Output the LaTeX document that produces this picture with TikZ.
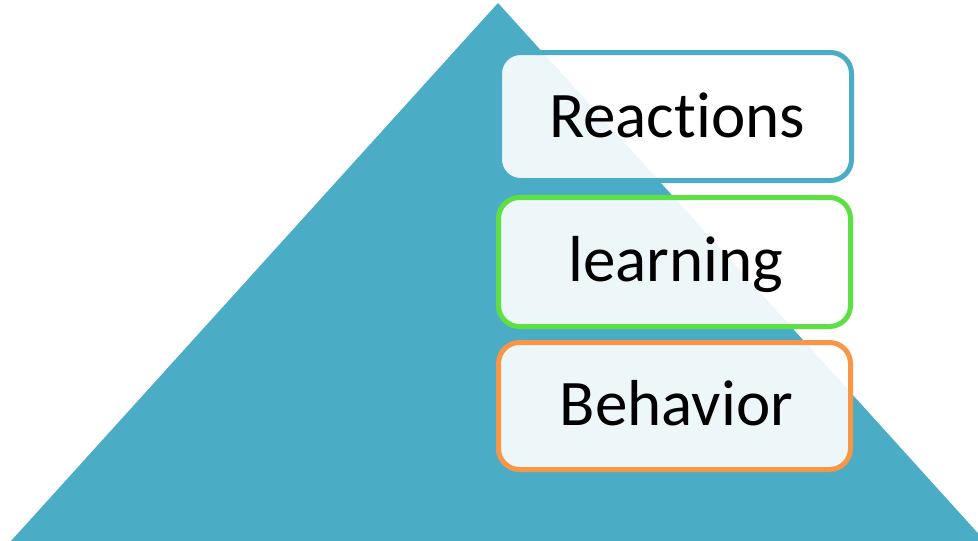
\documentclass[tikz,border=0pt]{standalone}
\usepackage{fontspec}
\setmainfont{Carlito}[Ligatures=NoCommon]
\definecolor{teal}{HTML}{4BACC6}
\definecolor{boxgreen}{HTML}{5EE045}
\definecolor{boxorange}{HTML}{F79646}
\tikzset{
  levelbox/.style={draw, line width=5pt, rounded corners=21pt, fill=white, fill opacity=0.9, draw opacity=1},
  leveltext/.style={anchor=base, inner sep=0pt, font=\fontsize{65}{78}\selectfont, text=black}
}
\begin{document}
\begin{tikzpicture}[x=1pt,y=-1pt]
\useasboundingbox (0,0) rectangle (978,541);
\begin{scope}
\clip (0,0) rectangle (978,541);
\fill[teal] (498,3) coordinate (apex) -- (11,541) coordinate (bl) -- (985,541) coordinate (br) -- cycle;
\end{scope}
\draw[levelbox, draw=teal] (499.5,52.5) rectangle (851.5,180.5);
\draw[levelbox, draw=boxgreen] (498.5,197.5) rectangle (850.5,326.5);
\draw[levelbox, draw=boxorange] (498.5,342.5) rectangle (850.5,469.5);
\node[leveltext] (reactions) at (677,137) {Reactions};
\node[leveltext] (learning) at (676,281) {learning};
\node[leveltext] (behavior) at (676.5,425) {Behavior};
\end{tikzpicture}
\end{document}
